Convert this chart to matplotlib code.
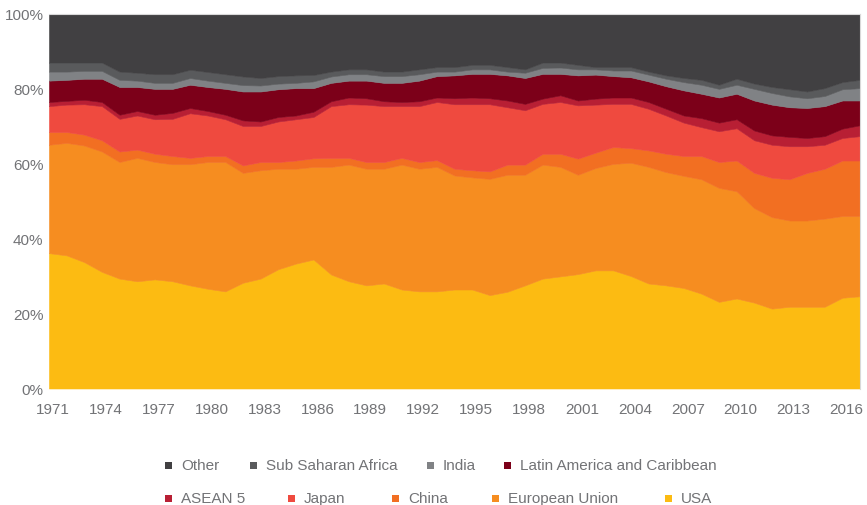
import matplotlib
matplotlib.use("Agg")
import matplotlib.pyplot as plt
from matplotlib.patches import Rectangle
from matplotlib.transforms import ScaledTranslation

years = list(range(1971, 2018))

usa = [36.1, 35.5, 33.7, 31.1, 29.3, 28.6, 29.1, 28.6, 27.5, 26.6, 25.9, 28.2, 29.3, 31.8, 33.3, 34.4,
       30.4, 28.6, 27.5, 28.0, 26.4, 25.9, 25.9, 26.4, 26.4, 24.9, 25.8, 27.5, 29.3, 29.9, 30.5, 31.5,
       31.5, 30.0, 28.0, 27.5, 26.8, 25.3, 23.1, 24.0, 22.9, 21.3, 21.8, 21.8, 21.8, 24.2, 24.6]
eu = [28.9, 30.0, 31.1, 32.1, 31.1, 32.9, 31.3, 31.2, 32.3, 33.8, 34.5, 29.3, 28.9, 26.8, 25.3, 24.7,
      28.7, 31.1, 31.1, 30.6, 33.3, 32.7, 33.2, 30.4, 29.9, 31.0, 31.2, 29.5, 30.4, 29.2, 26.5, 27.3,
      28.4, 30.2, 31.1, 30.2, 29.9, 30.5, 30.4, 28.6, 25.2, 24.4, 23.0, 23.0, 23.5, 21.8, 21.4]
china = [3.4, 2.9, 2.9, 3.0, 2.8, 2.2, 2.2, 2.2, 1.7, 1.6, 1.6, 2.0, 2.2, 1.8, 2.2, 2.3,
         2.4, 1.8, 1.8, 1.8, 1.8, 1.8, 1.8, 1.8, 1.9, 2.0, 2.7, 2.7, 2.9, 3.5, 4.3, 4.1,
         4.5, 3.9, 4.4, 4.9, 5.3, 6.2, 6.9, 8.2, 9.4, 10.5, 11.0, 12.7, 13.3, 14.8, 14.8]
japan = [6.9, 7.3, 8.1, 9.1, 8.7, 9.1, 9.2, 9.9, 11.9, 10.8, 9.8, 10.5, 9.6, 10.8, 11.0, 11.0,
         13.8, 14.3, 15.3, 14.9, 13.8, 14.9, 15.5, 17.2, 17.6, 17.9, 15.3, 14.5, 13.3, 13.8, 14.2, 12.8,
         11.5, 11.8, 11.1, 10.2, 8.9, 7.7, 8.2, 8.6, 8.7, 8.8, 8.8, 7.1, 6.4, 6.0, 6.5]
asean5 = [1.1, 1.0, 1.2, 1.1, 1.1, 1.2, 1.2, 1.6, 1.4, 1.2, 1.2, 1.5, 1.2, 1.2, 1.0, 1.4,
          1.3, 1.8, 1.7, 1.3, 1.1, 1.3, 1.2, 1.6, 1.8, 1.6, 1.8, 1.7, 1.4, 1.8, 1.3, 1.6,
          1.7, 1.7, 1.8, 1.8, 1.9, 2.4, 2.3, 2.4, 2.6, 2.5, 2.5, 2.2, 2.3, 2.5, 2.9]
latam = [5.7, 5.6, 5.6, 6.2, 7.4, 6.4, 6.9, 6.4, 6.2, 6.4, 6.9, 7.7, 8.0, 7.4, 7.3, 6.3,
         4.9, 4.5, 4.7, 4.9, 5.1, 5.5, 5.7, 6.1, 6.3, 6.5, 6.7, 6.9, 6.6, 5.7, 6.7, 6.4,
         5.7, 5.4, 5.5, 6.0, 6.7, 6.5, 6.7, 6.8, 8.0, 8.2, 7.9, 8.0, 8.0, 7.5, 6.6]
india = [2.4, 2.2, 2.1, 2.1, 1.9, 1.7, 1.6, 1.6, 1.8, 1.7, 1.6, 1.7, 1.6, 1.5, 1.4, 1.8,
         1.7, 1.7, 1.7, 1.8, 1.8, 1.7, 1.2, 1.0, 1.2, 1.2, 1.0, 1.4, 1.6, 1.7, 1.6, 1.4,
         1.5, 1.8, 1.8, 2.0, 2.2, 2.4, 2.3, 2.4, 3.1, 3.1, 2.9, 2.6, 2.7, 3.0, 3.3]
ssa = [2.4, 2.4, 2.2, 2.2, 2.2, 2.1, 2.3, 2.3, 2.2, 2.3, 2.3, 2.3, 2.0, 2.0, 2.0, 1.7,
       1.3, 1.3, 1.3, 1.2, 1.2, 1.3, 1.2, 1.2, 1.2, 1.2, 1.2, 0.9, 1.4, 1.3, 1.2, 0.6,
       0.9, 0.9, 0.8, 0.9, 1.1, 1.3, 1.1, 1.6, 1.4, 1.6, 1.9, 1.8, 2.1, 1.9, 2.2]
other = [13.1, 13.1, 13.1, 13.1, 15.5, 15.8, 16.2, 16.2, 15.0, 15.6, 16.2, 16.8, 17.2, 16.7, 16.5, 16.4,
         15.5, 14.9, 14.9, 15.5, 15.5, 14.9, 14.3, 14.3, 13.7, 13.7, 14.3, 14.9, 13.1, 13.1, 13.7, 14.3,
         14.3, 14.3, 15.5, 16.5, 17.2, 17.7, 19.0, 17.4, 18.7, 19.6, 20.2, 20.8, 19.9, 18.3, 17.7]

series_names = ["USA", "European Union", "China", "Japan", "ASEAN 5",
                "Latin America and Caribbean", "India", "Sub Saharan Africa", "Other"]
series_values = [usa, eu, china, japan, asean5, latam, india, ssa, other]
colors = ["#fcbb12", "#f68d20", "#f26f22", "#ef4a3f", "#b81f34",
          "#7c0019", "#808285", "#595a5c", "#414042"]

x_ticks = list(range(1971, 2017, 3))
y_ticks = [0, 20, 40, 60, 80, 100]

plt.rcParams['font.family'] = ['Liberation Sans', 'DejaVu Sans']
text_color = '#727376'
W, H = 867, 506
fig = plt.figure(figsize=(W / 100, H / 100), dpi=100)
ax = fig.add_axes([49 / W, 1 - 389.5 / H, (860 - 49) / W, (389.5 - 14.5) / H])

polys = ax.stackplot(years, *series_values, colors=colors, linewidth=0.4)
for p, c in zip(polys, colors):
    p.set_edgecolor(c)

ax.set_xlim(1971, 2017)
ax.set_ylim(0, 100)
ax.set_xticks(x_ticks)
ax.set_xticklabels([str(t) for t in x_ticks])
ax.set_yticks(y_ticks)
ax.set_yticklabels([f"{t}%" for t in y_ticks])
ax.tick_params(axis='both', length=0, labelsize=11, colors=text_color)
ax.tick_params(axis='x', pad=10)
ax.tick_params(axis='y', pad=4)
shift = ScaledTranslation(4 / 100, 0, fig.dpi_scale_trans)
for lbl in ax.get_xticklabels():
    lbl.set_transform(lbl.get_transform() + shift)
for s in ['left', 'bottom']:
    ax.spines[s].set_visible(False)
for s in ['top', 'right']:
    ax.spines[s].set_color('#d9d9d9')
    ax.spines[s].set_linewidth(0.8)

# Legend (manual layout, two rows)
legend_rows = [
    [("Other", 165), ("Sub Saharan Africa", 250), ("India", 427), ("Latin America and Caribbean", 504)],
    [("ASEAN 5", 165), ("Japan", 288), ("China", 392), ("European Union", 492), ("USA", 665)],
]
row_y = [466.5, 499.5]
color_of = dict(zip(series_names, colors))
msize = 7
for row, yy in zip(legend_rows, row_y):
    for name, xx in row:
        fig.patches.append(Rectangle((xx / W, 1 - (yy + msize / 2) / H), msize / W, msize / H,
                                     transform=fig.transFigure, facecolor=color_of[name],
                                     edgecolor='none'))
        fig.text((xx + msize + 9) / W, 1 - yy / H, name, fontsize=11, color=text_color,
                 ha='left', va='center')

fig.savefig("out.png", dpi=100)
